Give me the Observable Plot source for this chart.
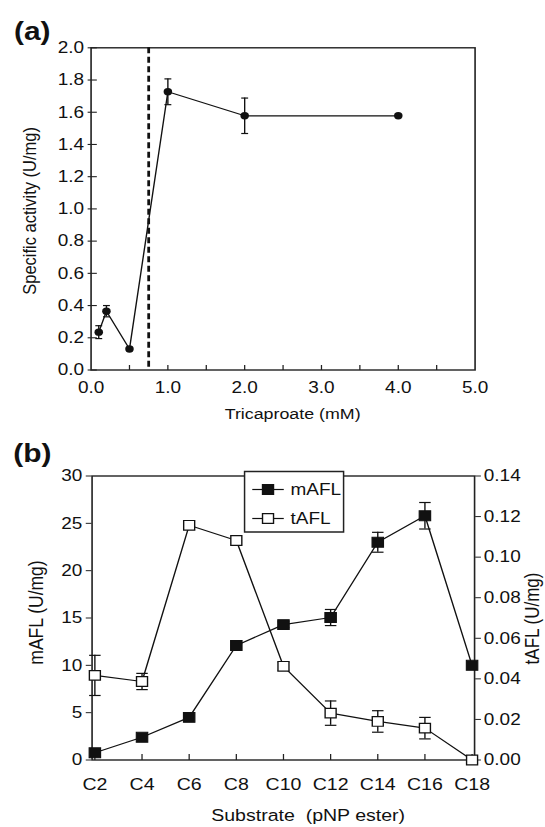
<!DOCTYPE html>
<html><head><meta charset="utf-8">
<script src="https://cdn.jsdelivr.net/npm/d3@7"></script>
<script src="https://cdn.jsdelivr.net/npm/@observablehq/plot@0.6"></script>
<style>body{margin:0;background:#fff} #chart svg{display:block}</style>
</head><body><div id="chart"></div>
<script>
// ---------- Panel (a) data ----------
const concA = [0.1, 0.2, 0.5, 1.0, 2.0, 4.0];
const activityA = [0.235, 0.365, 0.13, 1.727, 1.578, 1.578];
const errA = [0.04, 0.035, 0.01, 0.08, 0.11, 0];
const thresholdA = [0.75];
const xTickLabelsA = [0, 1, 2, 3, 4, 5];
const xTickMarksA = [0.5, 1, 1.5, 2, 2.5, 3, 3.5, 4, 4.5];
const yTicksA = [0, 0.2, 0.4, 0.6, 0.8, 1.0, 1.2, 1.4, 1.6, 1.8, 2.0];

// ---------- Panel (b) data ----------
const substrates = ["C2", "C4", "C6", "C8", "C10", "C12", "C14", "C16", "C18"];
const mAFL = [0.76, 2.4, 4.5, 12.1, 14.3, 15.05, 23.0, 25.8, 10.0];
const mAFLerr = [0, 0, 0, 0, 0.3, 0.85, 1.05, 1.4, 0];
const tAFL = [0.0417, 0.0387, 0.1157, 0.1082, 0.0462, 0.0231, 0.019, 0.0157, 0];
const tAFLerr = [0.0099, 0.004, 0, 0, 0.002, 0.006, 0.0053, 0.0053, 0];
const leftTicksB = [0, 5, 10, 15, 20, 25, 30];
const rightTicksB = [0, 0.02, 0.04, 0.06, 0.08, 0.10, 0.12, 0.14];
const legendNames = ["mAFL", "tAFL"];

const SX = 1.15, W = 545;
const font = "'Liberation Sans', Arial, Helvetica, sans-serif";
const ink = "#111";
const hLine = (a, b) => ({draw(ctx) { ctx.moveTo(a, 0); ctx.lineTo(b, 0); }});
const vLine = (a, b) => ({draw(ctx) { ctx.moveTo(0, a); ctx.lineTo(0, b); }});
const rectSym = (w, h) => ({draw(ctx) { ctx.rect(-w / 2, -h / 2, w, h); }});

function stretch(svg, h) {
  svg.setAttribute("viewBox", `0 0 ${W / SX} ${h}`);
  svg.setAttribute("width", W);
  svg.setAttribute("height", h);
  svg.setAttribute("preserveAspectRatio", "none");
  svg.style.width = W + "px";
  svg.style.height = h + "px";
  svg.style.maxWidth = "none";
  return svg;
}

// ---------- Panel (a) ----------
const tableA = concA.map((c, i) => ({conc: c, act: activityA[i], err: errA[i]}));
const errRowsA = tableA.filter(d => d.err > 0);

const plotA = Plot.plot({
  width: W / SX, height: 425,
  marginTop: 47.3, marginBottom: 55.5, marginLeft: 90.5 / SX, marginRight: 70.5 / SX,
  style: {fontFamily: font, fontSize: "16px", color: ink, background: "#fff", overflow: "visible"},
  x: {domain: [0, 5], label: null},
  y: {domain: [0, 2], label: null},
  marks: [
    Plot.frame({stroke: "#222", strokeWidth: 1.4}),
    Plot.ruleX(thresholdA, {x: d => d, stroke: ink, strokeWidth: 2.4, strokeDasharray: "6,3.5"}),
    Plot.dot(yTicksA, {y: d => d, frameAnchor: "left", symbol: hLine(-3, 5), stroke: "#222", fill: "none", strokeWidth: 1.1}),
    Plot.dot(xTickMarksA, {x: d => d, frameAnchor: "bottom", symbol: vLine(0, -5), stroke: "#222", fill: "none", strokeWidth: 1.1}),
    Plot.axisY(yTicksA, {tickSize: 0, tickPadding: 6, tickFormat: d3.format(".1f"), fontSize: 16.5, label: null}),
    Plot.axisX(xTickLabelsA, {tickSize: 0, tickPadding: 11, tickFormat: d3.format(".1f"), fontSize: 16.5, label: null}),
    Plot.line(tableA, {x: "conc", y: "act", stroke: ink, strokeWidth: 1.2}),
    Plot.ruleX(errRowsA, {x: "conc", y1: d => d.act - d.err, y2: d => d.act + d.err, stroke: ink, strokeWidth: 1.2}),
    Plot.dot(errRowsA, {x: "conc", y: d => d.act + d.err, symbol: hLine(-3, 3), stroke: ink, fill: "none", strokeWidth: 1.2}),
    Plot.dot(errRowsA, {x: "conc", y: d => d.act - d.err, symbol: hLine(-3, 3), stroke: ink, fill: "none", strokeWidth: 1.2}),
    Plot.dot(tableA, {x: "conc", y: "act", r: 3.7, fill: ink, stroke: "none"}),
    Plot.text(["(a)"], {text: d => d, frameAnchor: "top-left", dx: -51.2, dy: -16.5, fontSize: 26, fontWeight: "bold", textAnchor: "middle", lineAnchor: "middle"}),
    Plot.text(["Specific activity (U/mg)"], {text: d => d, frameAnchor: "left", dx: -53, dy: 2, rotate: -90, fontSize: 16.5, textAnchor: "middle", lineAnchor: "middle"}),
    Plot.text(["Tricaproate (mM)"], {text: d => d, frameAnchor: "bottom", dx: 8.3, dy: 43.8, fontSize: 15.5, textAnchor: "middle", lineAnchor: "middle"})
  ]
});

// ---------- Panel (b) ----------
const K = 30 / 0.14;
const tableB = substrates.map((s, i) => ({sub: s, m: mAFL[i], me: mAFLerr[i], t: tAFL[i] * K, te: tAFLerr[i] * K}));
const mErr = tableB.filter(d => d.me > 0);
const tErr = tableB.filter(d => d.te > 0);
const capB = hLine(-5, 5);
const errMarks = (rows, v, e) => [
  Plot.ruleX(rows, {x: "sub", y1: d => d[v] - d[e], y2: d => d[v] + d[e], stroke: ink, strokeWidth: 1.2}),
  Plot.dot(rows, {x: "sub", y: d => d[v] + d[e], symbol: capB, stroke: ink, fill: "none", strokeWidth: 1.2}),
  Plot.dot(rows, {x: "sub", y: d => d[v] - d[e], symbol: capB, stroke: ink, fill: "none", strokeWidth: 1.2})
];
const legendFills = [ink, "#fff"];
const legendMarks = legendNames.flatMap((name, i) => {
  const dy = 13.5 + i * 29;
  return [
    Plot.dot([name], {frameAnchor: "top-left", dx: 153, dy, symbol: hLine(-13.7, 13.7), stroke: ink, fill: "none", strokeWidth: 1.2}),
    Plot.dot([name], {frameAnchor: "top-left", dx: 153, dy, symbol: "square", r: 5.4, fill: legendFills[i], stroke: ink, strokeWidth: 1.2}),
    Plot.text([name], {text: d => d, frameAnchor: "top-left", dx: 172.6, dy, textAnchor: "start", lineAnchor: "middle", fontSize: 16.5})
  ];
});

const plotB = Plot.plot({
  width: W / SX, height: 402,
  marginTop: 50.5, marginBottom: 67.5, marginLeft: 91.5 / SX, marginRight: 71 / SX,
  style: {fontFamily: font, fontSize: "16px", color: ink, background: "#fff", overflow: "visible"},
  x: {type: "point", domain: substrates, padding: 0, label: null},
  y: {domain: [0, 30], label: null},
  marks: [
    Plot.frame({stroke: "#222", strokeWidth: 1.4}),
    Plot.dot(substrates, {x: d => d, frameAnchor: "bottom", symbol: vLine(0, -6), stroke: "#222", fill: "none", strokeWidth: 1.1}),
    Plot.axisX(substrates, {tickSize: 0, tickPadding: 17.5, fontSize: 17, label: null}),
    Plot.axisY(leftTicksB, {tickSize: 5, tickPadding: 3.5, fontSize: 16.5, label: null, stroke: "#222"}),
    Plot.axisY(rightTicksB, {anchor: "right", y: d => d * K, tickFormat: d3.format(".2f"), tickSize: 5, tickPadding: 3, fontSize: 16.5, label: null, stroke: "#222"}),
    Plot.line(tableB, {x: "sub", y: "m", stroke: ink, strokeWidth: 1.2}),
    Plot.line(tableB, {x: "sub", y: "t", stroke: ink, strokeWidth: 1.2}),
    ...errMarks(mErr, "m", "me"),
    ...errMarks(tErr, "t", "te"),
    Plot.dot(tableB, {x: "sub", y: "m", symbol: "square", r: 5.6, fill: ink, stroke: ink, strokeWidth: 1}),
    Plot.dot(tableB, {x: "sub", y: "t", symbol: "square", r: 5.4, fill: "#fff", stroke: ink, strokeWidth: 1.2}),
    Plot.dot(["legend"], {frameAnchor: "top-left", dx: 175.65, dy: 25.75, symbol: rectSym(86.1, 60.5), fill: "#fff", stroke: "#222", strokeWidth: 1.3}),
    ...legendMarks,
    Plot.text(["(b)"], {text: d => d, frameAnchor: "top-left", dx: -52, dy: -22.5, fontSize: 26, fontWeight: "bold", textAnchor: "middle", lineAnchor: "middle"}),
    Plot.text(["mAFL (U/mg)"], {text: d => d, frameAnchor: "left", dx: -48, dy: -5.5, rotate: -90, fontSize: 17.5, textAnchor: "middle", lineAnchor: "middle"}),
    Plot.text(["tAFL (U/mg)"], {text: d => d, frameAnchor: "right", dx: 51, dy: 0.5, rotate: -90, fontSize: 17, textAnchor: "middle", lineAnchor: "middle"}),
    Plot.text(["Substrate  (pNP ester)"], {text: d => d, frameAnchor: "bottom", dx: 21.6, dy: 55.5, fontSize: 17, textAnchor: "middle", lineAnchor: "middle"})
  ]
});

const root = document.getElementById("chart");
root.appendChild(stretch(plotA, 425));
root.appendChild(stretch(plotB, 402));
</script>
</body></html>
